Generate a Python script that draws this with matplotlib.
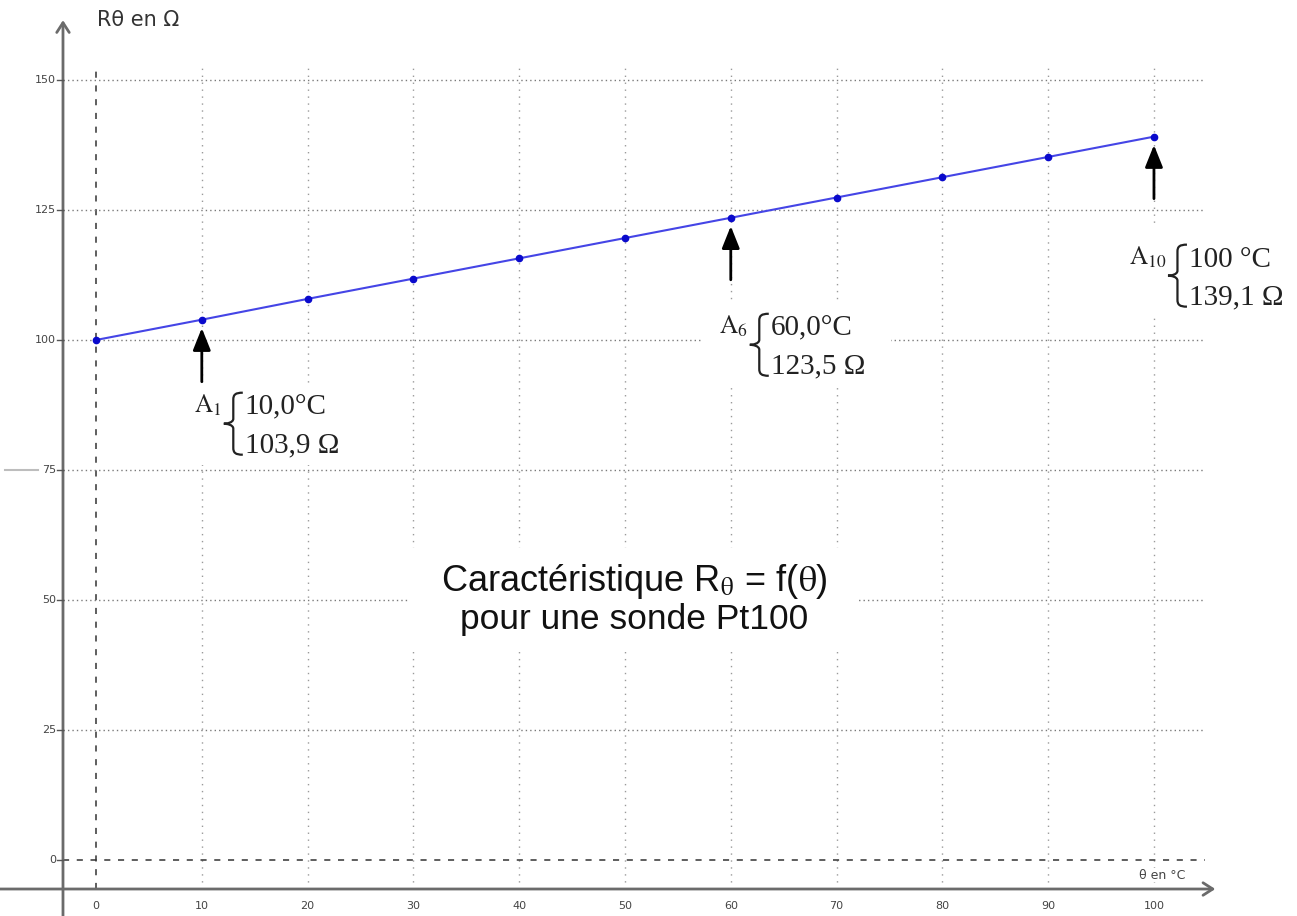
import matplotlib
matplotlib.use('Agg')
import matplotlib.pyplot as plt
from matplotlib.path import Path
from matplotlib.patches import PathPatch, Rectangle
import matplotlib.transforms as mtransforms

plt.rcParams['mathtext.fontset'] = 'stix'

# ---------------- data ----------------
temps = [0, 10, 20, 30, 40, 50, 60, 70, 80, 90, 100]
resist = [100.0, 103.9, 107.9, 111.8, 115.7, 119.6, 123.5, 127.4, 131.3, 135.2, 139.1]
x_ticks = [0, 10, 20, 30, 40, 50, 60, 70, 80, 90, 100]
y_ticks = [0, 25, 50, 75, 100, 125, 150]

ann_index = [1, 6, 10]
ann_sub = ['1', '6', '10']
ann_temp = ['10,0°C', '60,0°C', '100 °C']
ann_res = ['103,9 Ω', '123,5 Ω', '139,1 Ω']

title1 = r'Caractéristique R$_{\mathrm{\theta}}$ = f($\mathrm{\theta}$)'
title2 = 'pour une sonde Pt100'
ylabel = 'Rθ en Ω'
xlabel = 'θ en °C'

# ---------------- layout (pixel offsets) ----------------
brace_off = [(22, -104), (19, -127), (14, -139)]          # brace tip relative to point
white_box = [(-17, -145, 155, 77), (-28, -167, 188, 85), (-34, -178, 177, 90)]

W, H = 12.97, 9.16
fig = plt.figure(figsize=(W, H), dpi=100)
ax = fig.add_axes([0, 0, 1, 1])
ax.set_xlim(-9.074, 113.52)
ax.set_ylim(-10.77, 165.38)
ax.axis('off')

x_axis_pos = -3.12
y_axis_pos = -5.58
grid_right = 104.8
grid_top = 152.9

# grid
for xv in x_ticks:
    if xv == 0:
        ax.plot([xv, xv], [y_axis_pos, grid_top], color='#333333', lw=1.1,
                ls=(0, (4, 5)), zorder=1)
    else:
        ax.plot([xv, xv], [y_axis_pos, grid_top], color='#9a9a9a', lw=1.0,
                ls=(0, (1, 4)), zorder=1)
for yv in y_ticks:
    if yv == 0:
        ax.plot([x_axis_pos, grid_right], [yv, yv], color='#333333', lw=1.1,
                ls=(0, (4, 5)), zorder=1)
    else:
        ax.plot([x_axis_pos, grid_right], [yv, yv], color='#7a7a7a', lw=1.0,
                ls=(0, (1, 2.2)), zorder=1)

# stray grey segment at left (75)
ax.plot([-8.6, -5.5], [75, 75], color='#bdbdbd', lw=1.5, zorder=1)

# solid axes with open arrows
ax.annotate('', xy=(x_axis_pos, 161.5), xytext=(x_axis_pos, -10.77),
            arrowprops=dict(arrowstyle='->,head_length=0.7,head_width=0.45',
                            color='#6b6b6b', lw=2, shrinkA=0, shrinkB=0), zorder=2)
ax.annotate('', xy=(105.8, y_axis_pos), xytext=(-9.074, y_axis_pos),
            arrowprops=dict(arrowstyle='->,head_length=0.7,head_width=0.45',
                            color='#6b6b6b', lw=2, shrinkA=0, shrinkB=0), zorder=2)

# tick marks and labels
for yv in y_ticks:
    ax.plot([x_axis_pos - 0.6, x_axis_pos], [yv, yv], color='#555555', lw=1, zorder=2)
    ax.text(-3.78, yv, str(yv), ha='right', va='center', fontsize=8,
            color='#444444', zorder=3)
for xv in x_ticks:
    ax.text(xv, -8.85, str(xv), ha='center', va='center', fontsize=8,
            color='#444444', zorder=3)

ax.text(0.1, 161.5, ylabel, ha='left', va='center', fontsize=15, color='#333333')
ax.text(100.75, -2.9, xlabel, ha='center', va='center', fontsize=9, color='#444444',
        bbox=dict(fc='white', ec='none', pad=0.5), zorder=3)

# centre title with white background
ax.add_patch(Rectangle((29.5, 40.4), 42.5, 19.6, fc='white', ec='none', zorder=2.5))
ax.text(50.9, 51.73, title1, ha='center', va='baseline', fontsize=26,
        family='Liberation Sans', color='#111111', zorder=3)
ax.text(50.9, 44.42, title2, ha='center', va='baseline', fontsize=25.5,
        family='Liberation Sans', color='#111111', zorder=3)

# data
ax.plot(temps, resist, color='#4545e6', lw=1.5, zorder=4)
ax.plot(temps, resist, ls='none', marker='o', ms=4.5, color='#0a0acc', zorder=5)


def px_trans(x, y):
    return mtransforms.Affine2D() + mtransforms.ScaledTranslation(x, y, ax.transData)


for k, idx in enumerate(ann_index):
    x, y = temps[idx], resist[idx]
    tr = px_trans(x, y)
    bx0, by0, bw, bh = white_box[k]
    ax.add_patch(Rectangle((bx0, by0), bw, bh, fc='white', ec='none',
                           transform=tr, zorder=2.5))
    # arrow
    ax.annotate('', xy=(x, y), xytext=(0, -62), textcoords='offset pixels',
                arrowprops=dict(arrowstyle='-|>,head_length=0.75,head_width=0.3',
                                color='black', lw=2, shrinkA=0, shrinkB=6,
                                mutation_scale=18), zorder=6)
    tx, ty = brace_off[k]
    # brace path (pixels, y up)
    h = 31
    wdt = 19
    m = wdt / 2
    verts = [(tx + wdt, ty + h),
             (tx + m + 2, ty + h), (tx + m, ty + h - 2), (tx + m, ty + h - 7),
             (tx + m, ty + 5),
             (tx + m, ty + 1), (tx + 3, ty), (tx, ty),
             (tx + 3, ty), (tx + m, ty - 1), (tx + m, ty - 5),
             (tx + m, ty - h + 7),
             (tx + m, ty - h + 2), (tx + m + 2, ty - h), (tx + wdt, ty - h)]
    codes = [Path.MOVETO,
             Path.CURVE4, Path.CURVE4, Path.CURVE4,
             Path.LINETO,
             Path.CURVE4, Path.CURVE4, Path.CURVE4,
             Path.CURVE4, Path.CURVE4, Path.CURVE4,
             Path.LINETO,
             Path.CURVE4, Path.CURVE4, Path.CURVE4]
    ax.add_patch(PathPatch(Path(verts, codes), fc='none', ec='#222222', lw=1.6,
                           transform=tr, zorder=6))
    ax.annotate(r'$\mathrm{A}_{\mathrm{%s}}$' % ann_sub[k], xy=(x, y),
                xytext=(tx - 2, ty + 11), textcoords='offset pixels',
                ha='right', va='baseline', fontsize=18, color='#222222', zorder=6)
    ax.annotate(ann_temp[k], xy=(x, y), xytext=(tx + wdt + 2, ty + 9),
                textcoords='offset pixels', ha='left', va='baseline', fontsize=21,
                family='Liberation Serif', color='#222222', zorder=6)
    ax.annotate(ann_res[k], xy=(x, y), xytext=(tx + wdt + 2, ty - 29),
                textcoords='offset pixels', ha='left', va='baseline', fontsize=21,
                family='Liberation Serif', color='#222222', zorder=6)

fig.savefig('out.png', dpi=100)
